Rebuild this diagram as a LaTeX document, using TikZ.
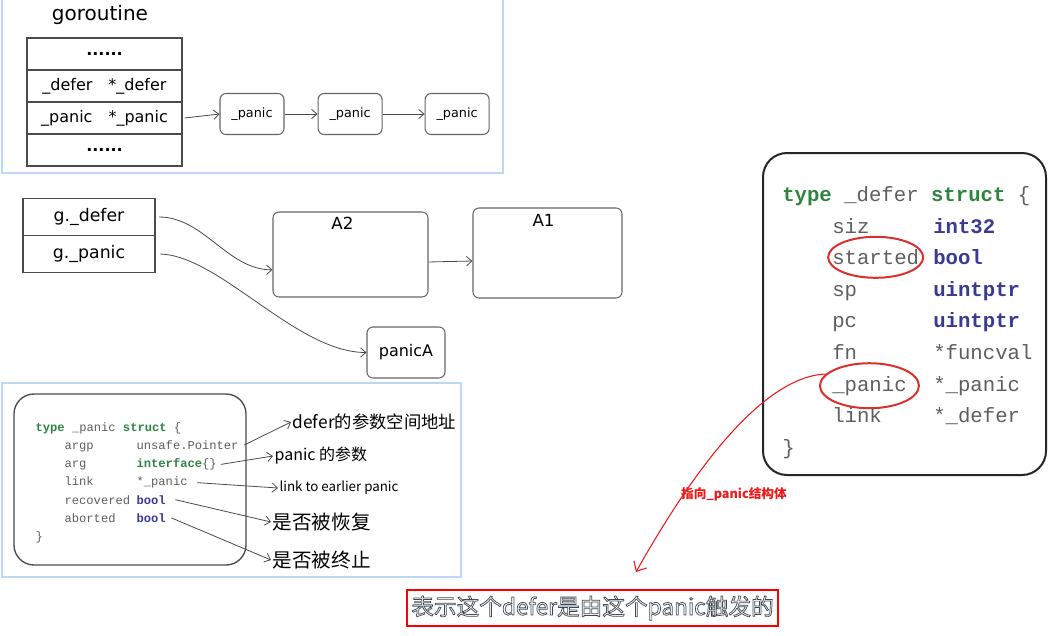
\documentclass[tikz,border=0pt]{standalone}
\usepackage{fontspec}
\setmainfont{DejaVu Sans}
\newfontfamily\handfont{DejaVu Sans}
\newfontfamily\cjk{Noto Sans CJK SC}
\newfontfamily\codefont{Liberation Mono}
\usetikzlibrary{positioning,calc,arrows.meta,shapes.geometric}
\definecolor{panelblue}{HTML}{BCD8F7}
\definecolor{linegray}{HTML}{4A4A4A}
\definecolor{boxgray}{HTML}{666666}
\definecolor{kwgreen}{HTML}{2E8540}
\definecolor{tyblue}{HTML}{3A3A94}
\definecolor{codegray}{HTML}{5E5E5E}
\definecolor{ringred}{HTML}{D9302B}
\definecolor{arrowred}{HTML}{F01818}
\newcommand{\kw}[1]{{\color{kwgreen}\bfseries #1}}
\newcommand{\ty}[1]{{\color{tyblue}\bfseries #1}}
\newcommand{\subhalo}[1]{{\color{white}%
  \special{pdf:literal direct 2 Tr 0.55 w 0.25 0.29 0.33 RG}#1\special{pdf:literal direct 0 Tr}}}
\tikzset{x=0.75pt, y=-0.75pt}
\tikzset{panel/.style={draw=panelblue,line width=1.5pt,fill=white}}
\tikzset{hand/.style={inner sep=1pt,node font={\handfont\fontsize{12}{14}\selectfont}}}
\tikzset{cell/.style={hand,draw=linegray,line width=1.1pt,rectangle,outer sep=0pt,inner sep=0pt}}
\tikzset{gcell/.style={cell,minimum width=116.25pt,minimum height=24pt}}
\tikzset{rbox/.style={hand,draw=boxgray,line width=0.8pt,rounded corners=4.5pt,rectangle}}
\tikzset{lcode/.style={anchor=mid west,inner sep=1pt,text=codegray,node font={\codefont\fontsize{9.1}{11}\selectfont}}}
\tikzset{dcode/.style={anchor=mid west,inner sep=0pt,text=codegray,node font={\codefont\fontsize{15.5}{18}\selectfont}}}
\tikzset{note/.style={anchor=west,inner sep=1pt,node font={\cjk\fontsize{13}{15}\selectfont}}}
\tikzstyle{arrow}=[-{Straight Barb[length=4pt,width=7pt]},draw=linegray,line width=0.6pt]
\tikzstyle{ring}=[ellipse,draw=ringred,line width=1.5pt,inner sep=0pt]
\tikzstyle{redarrow}=[-{Straight Barb[length=6pt,width=11pt]},draw=arrowred,line width=0.8pt]

\begin{document}
\begin{tikzpicture}
  \useasboundingbox (0,0) rectangle (1058,636);
  \draw[panel] (2,-6) rectangle (503,173);
  \draw[panel] (2,383) rectangle (461,577);

  \node[hand, node font={\handfont\fontsize{15}{18}\selectfont}] (gtitle) at (100,15) {goroutine};
  \node[gcell] (gr1) at (104.5,54) {\bfseries ......};
  \node[gcell, below=0pt of gr1] (gr2) {\_defer\quad*\_defer};
  \node[gcell, below=0pt of gr2] (gr3) {\_panic\quad*\_panic};
  \node[gcell, below=0pt of gr3] (gr4) {\bfseries ......};
  \node[rbox, minimum width=48pt, minimum height=30.75pt, node font={\handfont\fontsize{9.6}{11}\selectfont}] (pn1) at (252,114) {\_panic};
  \node[rbox, minimum width=48pt, minimum height=30.75pt, node font={\handfont\fontsize{9.6}{11}\selectfont}, right=24.75pt of pn1] (pn2) {\_panic};
  \node[rbox, minimum width=48pt, minimum height=30.75pt, node font={\handfont\fontsize{9.6}{11}\selectfont}, right=31.5pt of pn2] (pn3) {\_panic};
  \draw[arrow] ([xshift=2pt]gr3.east) -- (pn1.west);
  \draw[arrow] (pn1) -- (pn2);
  \draw[arrow] (pn2) -- (pn3);

  \node[cell, minimum width=99pt, minimum height=27.75pt, node font={\handfont\fontsize{13}{15}\selectfont}] (gdef) at (89,217) {g.\_defer};
  \node[cell, minimum width=99pt, minimum height=27.75pt, node font={\handfont\fontsize{13}{15}\selectfont}, below=0pt of gdef] (gpan) {g.\_panic};
  \node[rbox, minimum width=116.25pt, minimum height=63.75pt,
    label={[hand,anchor=north,xshift=-6pt,yshift=-3pt,node font={\handfont\fontsize{12.5}{15}\selectfont}]north:A2}] (a2) at (350.5,254.5) {};
  \node[rbox, minimum width=111.75pt, minimum height=67.5pt,
    label={[hand,anchor=north,xshift=-3pt,yshift=-4pt,node font={\handfont\fontsize{12.5}{15}\selectfont}]north:A1}] (a1) at (547.5,253) {};
  \node[rbox, minimum width=58.5pt, minimum height=38.25pt] (pa) at (406,352.5) {panicA};
  \draw[arrow] ([xshift=3pt]gdef.east) .. controls +(45,0) and +(-45,0) .. ([yshift=-11.5pt]a2.west);
  \draw[arrow] ([xshift=4pt]gpan.east) .. controls +(60,2) and +(-70,0) .. (pa.west);
  \draw[arrow] ([yshift=-5.6pt]a2.east) -- ([yshift=-6pt]a1.west);

  \draw[draw=linegray, line width=1pt, rounded corners=15pt] (14,394) rectangle (246,565);
  \node[lcode] (lhead) at (34,428) {\kw{type} \_panic \kw{struct} \{};
  \foreach \f/\t [count=\i] in {argp/unsafe.Pointer, arg/\kw{interface}\{\}, link/*\_panic, recovered/\ty{bool}, aborted/\ty{bool}} {
    \node[lcode] (lf\i) at (63,{428+18.2*\i}) {\f};
    \node[lcode] (lt\i) at (135,{428+18.2*\i}) {\t};
  }
  \node[lcode] (lend) at (34,537) {\}};
  \node[note] (n1) at (291,422) {defer的参数空间地址};
  \node[note, node font={\cjk\fontsize{12}{14}\selectfont}] (n2) at (273,456) {panic 的参数};
  \node[note, node font={\cjk\fontsize{10}{12}\selectfont}] (n3) at (278,488) {link to earlier panic};
  \node[note, node font={\cjk\fontsize{14.7}{17}\selectfont}] (n4) at (271,522) {是否被恢复};
  \node[note, node font={\cjk\fontsize{14.7}{17}\selectfont}] (n5) at (271,560) {是否被终止};
  \draw[arrow] ([xshift=3pt]lt1.east) -- (n1.west);
  \draw[arrow] ([xshift=2pt]lt2.east) -- (n2.west);
  \draw[arrow] ([xshift=6pt]lt3.east) -- (n3.west);
  \draw[arrow] ([xshift=6pt]lt4.east) -- (n4.west);
  \draw[arrow] ([xshift=3pt]lt5.east) -- (n5.west);

  \draw[draw=black!85, line width=1.5pt, rounded corners=18pt] (763,153) rectangle (1046,475);
  \node[dcode] (dhead) at (782,196) {\kw{type} \_defer \kw{struct} \{};
  \foreach \f/\t [count=\i] in {siz/\ty{int32}, started/\ty{bool}, sp/\ty{uintptr}, pc/\ty{uintptr}, fn/*funcval, \_panic/*\_panic, link/*\_defer} {
    \node[dcode] (df\i) at (832,{196+31.6*\i}) {\f};
    \node[dcode] (dt\i) at (933,{196+31.6*\i}) {\t};
  }
  \node[dcode] (dend) at (782,449) {\}};
  \node[ring, minimum width=71.25pt, minimum height=30.75pt] (ring1) at (df2) {};
  \node[ring, minimum width=74.25pt, minimum height=33.75pt] (ring2) at (df6) {};
  \coordinate (tip) at (636,572);
  \draw[redarrow] (ring2.165) .. controls +(-70,3) and +(45,-80) .. (tip);
  \node[text=arrowred, node font={\cjk\bfseries\fontsize{9.5}{11}\selectfont}] (plabel) at (734,494) {指向\_panic结构体};

  \node[draw=red, line width=1.1pt, minimum width=278.25pt, minimum height=27pt, inner sep=0pt,
    node font={\cjk\fontsize{17}{19}\selectfont}] (sub) at (592.5,608) {\subhalo{表示这个defer是由这个panic触发的}};
\end{tikzpicture}
\end{document}
